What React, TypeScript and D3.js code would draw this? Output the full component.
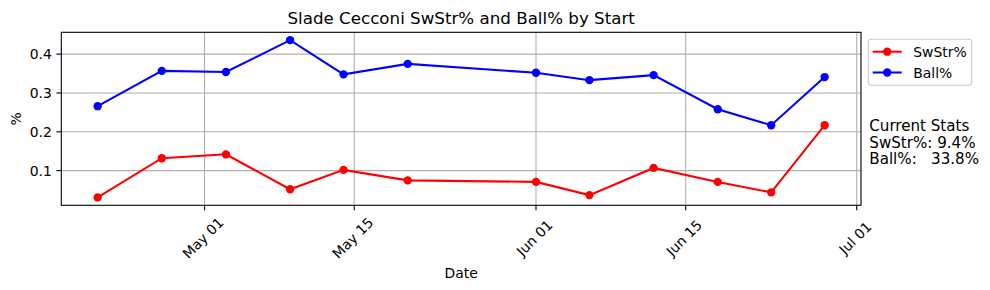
import React from "react";
import * as d3 from "d3";

const dates = ["2024-04-21","2024-04-27","2024-05-03","2024-05-09","2024-05-14","2024-05-20","2024-06-01","2024-06-06","2024-06-12","2024-06-18","2024-06-23","2024-06-28"];
const swstr = [0.031,0.132,0.142,0.052,0.102,0.075,0.071,0.037,0.107,0.071,0.044,0.217];
const ball = [0.266,0.357,0.354,0.436,0.348,0.375,0.352,0.333,0.346,0.258,0.217,0.341];
const xTickDates = ["2024-05-01","2024-05-15","2024-06-01","2024-06-15","2024-07-01"];
const xTickLabels = ["May 01","May 15","Jun 01","Jun 15","Jul 01"];
const yTicks = [0.1,0.2,0.3,0.4];
const title = "Slade Cecconi SwStr% and Ball% by Start";
const statsLines = ["Current Stats","SwStr%: 9.4%","Ball%:   33.8%"];

const W = 990, H = 290;
const L = 61.3, R = 861, T = 32.3, B = 205.3;
const FONT = "DejaVu Sans, sans-serif";

export default function App() {
  const parse = d3.utcParse("%Y-%m-%d");
  const xs = dates.map(d => parse(d) as Date);
  const [x0, x1] = d3.extent(xs) as [Date, Date];
  const xpad = (x1.getTime() - x0.getTime()) * 0.05;
  const x = d3.scaleUtc().domain([new Date(x0.getTime() - xpad), new Date(x1.getTime() + xpad)]).range([L, R]);
  const all = swstr.concat(ball);
  const ymin = d3.min(all) as number, ymax = d3.max(all) as number;
  const ypad = (ymax - ymin) * 0.05;
  const y = d3.scaleLinear().domain([ymin - ypad, ymax + ypad]).range([B, T]);
  const line = d3.line<number>().x((_, i) => x(xs[i])).y(v => y(v));
  const series = [
    { name: "SwStr%", values: swstr, color: "#ff0000" },
    { name: "Ball%", values: ball, color: "#0000ff" },
  ];
  return (
    <svg width={W} height={H} style={{ display: "block", position: "absolute", left: 0, top: 0 }} fontFamily={FONT}>
      <rect x={0} y={0} width={W} height={H} fill="#fff" />
      {xTickDates.map(d => {
        const xx = x(parse(d) as Date);
        return <line key={d} x1={xx} x2={xx} y1={T} y2={B} stroke="#b0b0b0" strokeWidth={1.1} />;
      })}
      {yTicks.map(v => (
        <line key={v} x1={L} x2={R} y1={y(v)} y2={y(v)} stroke="#b0b0b0" strokeWidth={1.1} />
      ))}
      {series.map(s => (
        <g key={s.name}>
          <path d={line(s.values) || ""} fill="none" stroke={s.color} strokeWidth={2.08} />
          {s.values.map((v, i) => (
            <circle key={i} cx={x(xs[i])} cy={y(v)} r={4.17} fill={s.color} />
          ))}
        </g>
      ))}
      <rect x={L} y={T} width={R - L} height={B - T} fill="none" stroke="#000" strokeWidth={1.1} />
      {xTickDates.map((d, i) => {
        const xx = x(parse(d) as Date);
        return (
          <g key={d}>
            <line x1={xx} x2={xx} y1={B} y2={B + 4.9} stroke="#000" strokeWidth={1.1} />
            <text transform={`translate(${xx - 1.5},${238}) rotate(-45)`} textAnchor="middle" dy="0.35em" fontSize={13.9} fill="#000">
              {xTickLabels[i]}
            </text>
          </g>
        );
      })}
      {yTicks.map(v => (
        <g key={v}>
          <line x1={L - 4.9} x2={L} y1={y(v)} y2={y(v)} stroke="#000" strokeWidth={1.1} />
          <text x={L - 9.5} y={y(v)} dy="0.36em" textAnchor="end" fontSize={13.9} fill="#000">{v.toFixed(1)}</text>
        </g>
      ))}
      <text x={(L + R) / 2} y={24} textAnchor="middle" fontSize={16.7} fill="#000">{title}</text>
      <text x={(L + R) / 2} y={277.7} textAnchor="middle" fontSize={13.9} fill="#000">Date</text>
      <text transform={`translate(${20.5},${(T + B) / 2}) rotate(-90)`} textAnchor="middle" fontSize={13.9} fill="#000">%</text>
      <rect x={868.3} y={39.3} width={103.4} height={46} rx={2.5} fill="#fff" fillOpacity={0.8} stroke="#cccccc" strokeWidth={1.1} />
      {series.map((s, i) => {
        const cy = 51.7 + i * 20.8;
        return (
          <g key={s.name}>
            <line x1={872.7} x2={901.7} y1={cy} y2={cy} stroke={s.color} strokeWidth={2.08} />
            <circle cx={887.2} cy={cy} r={4.17} fill={s.color} />
            <text x={913.3} y={cy} dy="0.36em" fontSize={13.9} fill="#000">{s.name}</text>
          </g>
        );
      })}
      {statsLines.map((t, i) => (
        <text key={i} x={869.3} y={130.9 + i * 16.7} fontSize={15.1} fill="#000" style={{ whiteSpace: "pre" }}>{t}</text>
      ))}
    </svg>
  );
}
